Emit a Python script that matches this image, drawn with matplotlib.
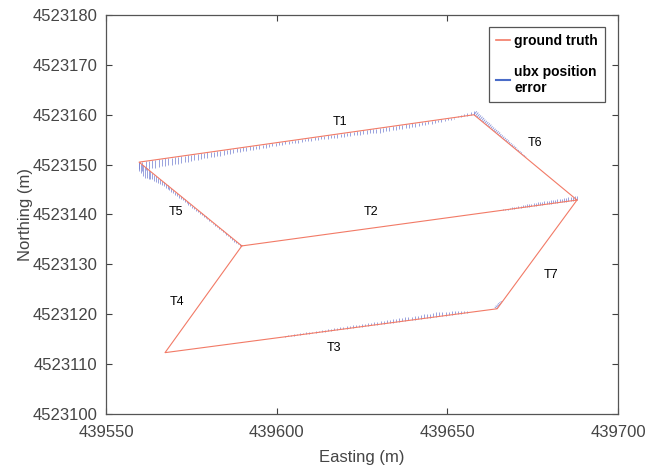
import numpy as np
import matplotlib
matplotlib.use("Agg")
import matplotlib.pyplot as plt
from matplotlib.lines import Line2D
from matplotlib.collections import LineCollection

plt.rcParams["font.family"] = ["Liberation Sans", "DejaVu Sans"]

# ground truth track corners (easting, northing), drawn C-F-E-D-A-B-C-D
truth_east = [439688.0, 439664.6, 439567.3, 439589.8, 439559.7, 439657.8, 439688.0, 439589.8]
truth_north = [4523142.9, 4523121.1, 4523112.3, 4523133.7, 4523150.5, 4523160.0, 4523142.9, 4523133.7]

# corners used by each leg (index into the lists above)
corner = {"A": 4, "B": 5, "C": 0, "D": 3, "E": 2, "F": 1}

# ubx position error (m) sampled along parts of each leg
err_T1 = [-1.7, -1.8, -1.7, -1.7, -1.6, -1.6, -1.6, -1.5, -1.5, -1.5, -1.4, -1.4, -1.4, -1.3, -1.3,
          -1.3, -1.2, -1.2, -1.2, -1.1, -1.1, -1.1, -1.0, -1.0, -1.0, -1.0, -0.9, -0.9, -0.9, -0.9,
          -0.8, -0.8, -0.8, -0.8, -0.8, -0.7, -0.7, -0.7, -0.7, -0.7, -0.6, -0.6, -0.6, -0.6, -0.6,
          -0.5, -0.6, -0.5, -0.5, -0.6, -0.5, -0.5, -0.5, -0.6, -0.6, -0.6, -0.6, -0.6, -0.7, -0.6,
          -0.7, -0.7, -0.7, -0.7, -0.7, -0.8, -0.7, -0.8, -0.8, -0.8, -0.8, -0.8, -0.8, -0.8, -0.9,
          -0.8, -0.8, -0.9, -0.8, -0.8, -0.8, -0.8, -0.7, -0.8, -0.7, -0.7, -0.7, -0.6, -0.7, -0.6,
          -0.6, -0.6, -0.5, -0.5, -0.5, -0.4, -0.4, -0.3, 0.3, 0.4, 0.5, 0.6, 0.7, 0.8]
err_T5 = [-1.4, -1.8, -2.1, -2.2, -2.0, -1.8, -1.5, -1.3, -1.2, -1.1, -1.0, -0.9, -0.9, -0.8, -0.8,
          -0.7, -0.7, -0.7, -0.6, -0.6, -0.6, -0.6, -0.5, -0.5, -0.5, -0.5, -0.5, -0.5, -0.4, -0.4,
          -0.4, -0.4, -0.4, -0.4, -0.4, -0.4, -0.3, -0.3, -0.3, -0.3, -0.3, -0.3, -0.3, -0.3, -0.3,
          -0.3, -0.3, -0.3, -0.3, -0.4, -0.4, -0.4, -0.3, -0.3]
err_T6 = [0.9, 0.9, 0.8, 0.8, 0.8, 0.8, 0.7, 0.7, 0.7, 0.7, 0.7, 0.6, 0.6, 0.6, 0.6, 0.6, 0.6, 0.5,
          0.5, 0.5, 0.5, 0.5, 0.5, 0.4, 0.4, 0.4, 0.4, 0.4, 0.3, 0.3, 0.3, 0.3, 0.2, 0.2, 0.2]
err_T2 = [0.9, 0.9, 0.8, 0.8, 0.8, 0.8, 0.8, 0.7, 0.7, 0.7, 0.7, 0.7, 0.7, 0.6, 0.6,
          0.6, 0.6, 0.6, 0.6, 0.5, 0.5, 0.5, 0.5, 0.5, 0.4, 0.4, 0.4, 0.4, 0.3, 0.3,
          0.3, 0.3, 0.2, 0.2, 0.2]
err_T3 = [0.2, 0.2, 0.2, 0.3, 0.3, 0.3, 0.3, 0.3, 0.3, 0.3, 0.4, 0.3, 0.4, 0.4, 0.4,
          0.4, 0.4, 0.4, 0.5, 0.4, 0.5, 0.5, 0.5, 0.5, 0.5, 0.5, 0.5, 0.6, 0.5, 0.6,
          0.6, 0.6, 0.6, 0.6, 0.6, 0.7, 0.6, 0.7, 0.7, 0.7, 0.7, 0.7, 0.8, 0.7, 0.8,
          0.8, 0.8, 0.8, 0.8, 0.9, 0.8, 0.8, 0.8, 0.7, 0.7, 0.7, 0.6, 0.6, 0.5, 0.4]
err_T7 = [0.6, 0.6, 0.5, 0.5, 0.4, 0.3]
# (from, to, start frac, end frac, errors, direction: "n" northing / "p" across track)
error_legs = [("A", "B", 0.0, 1.0, err_T1, "n"),
              ("A", "D", 0.0, 0.98, err_T5, "n"),
              ("B", "C", 0.0, 0.5, err_T6, "p"),
              ("C", "D", 0.0, 0.22, err_T2, "n"),
              ("E", "F", 0.36, 0.91, err_T3, "n"),
              ("F", "C", 0.0, 0.06, err_T7, "p")]

leg_names = ["T1", "T2", "T3", "T4", "T5", "T6", "T7"]
leg_east = [439618.6, 439627.7, 439616.8, 439570.8, 439570.5, 439675.7, 439680.4]
leg_north = [4523158.6, 4523140.5, 4523113.3, 4523122.5, 4523140.5, 4523154.3, 4523127.9]

fig = plt.figure(figsize=(6.57, 4.69), dpi=100)
ax = fig.add_axes([0.1613, 0.1173, 0.7793, 0.8507])
ax.set_xlim(439550, 439700)
ax.set_ylim(4523100, 4523180)

red = "#f27a66"
blue = "#7480d2"

# error ticks from the ground truth track, in screen pixels
to_px = ax.transData
to_data = ax.transData.inverted()
px_per_m = to_px.transform((0, 1))[1] - to_px.transform((0, 0))[1]
segs = []
for a, b, f0, f1, err, mode in error_legs:
    ia, ib = corner[a], corner[b]
    pa = to_px.transform((truth_east[ia], truth_north[ia]))
    pb = to_px.transform((truth_east[ib], truth_north[ib]))
    d = (pb - pa) / np.hypot(*(pb - pa))
    n = np.array([-d[1], d[0]]) if mode == "p" else np.array([0.0, 1.0])
    for t, e in zip(np.linspace(f0, f1, len(err)), err):
        p0 = pa + t * (pb - pa)
        p1 = p0 + e * px_per_m * n
        segs.append(to_data.transform([p0, p1]))
ax.add_collection(LineCollection(segs, colors=blue, linewidths=0.6, alpha=0.85))

ax.plot(truth_east, truth_north, color=red, linewidth=0.8)

for name, xe, yn in zip(leg_names, leg_east, leg_north):
    ax.text(xe, yn, name, fontsize=9, ha="center", va="center", color="black")

ax.set_xticks([439550, 439600, 439650, 439700])
ax.set_yticks(np.arange(4523100, 4523181, 10))
ax.ticklabel_format(useOffset=False, style="plain")
ax.tick_params(direction="in", length=4, width=0.8, top=True, right=True,
               labelsize=12, labelcolor="#454545", color="#404040", pad=6)
ax.tick_params(axis="x", pad=8)
for s in ax.spines.values():
    s.set_color("#555555")
    s.set_linewidth(0.9)

ax.set_xlabel("Easting (m)", fontsize=12, color="#454545", labelpad=7)
ax.set_ylabel("Northing (m)", fontsize=12, color="#454545", labelpad=0)

handles = [Line2D([], [], color=red, linewidth=1.2),
           Line2D([], [], color="#4a6cc8", linewidth=1.5)]
leg = ax.legend(handles, ["ground truth", "ubx position\nerror"],
                loc="upper right", bbox_to_anchor=(0.975, 0.97), borderaxespad=0,
                prop={"weight": "bold", "size": 10}, handlelength=1.0,
                handletextpad=0.35, labelspacing=1.2, fancybox=False,
                borderpad=0.5, framealpha=1)
leg.get_frame().set_edgecolor("#555555")
leg.get_frame().set_linewidth(0.9)

fig.savefig("out.png", dpi=100)
